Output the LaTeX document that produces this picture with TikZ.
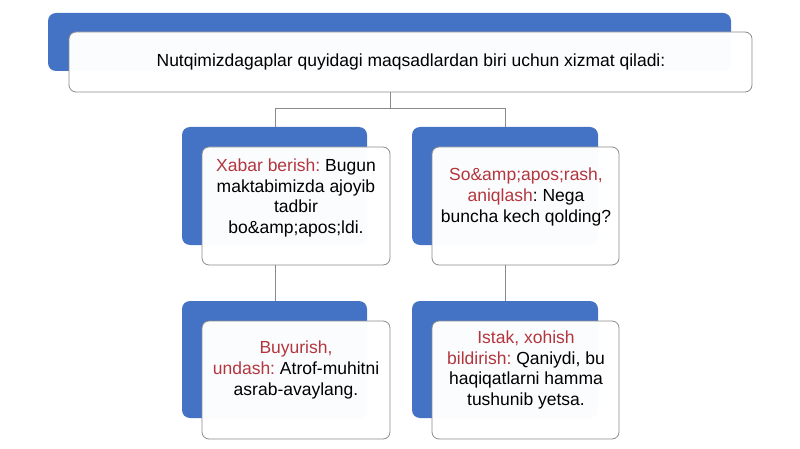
\documentclass[tikz,border=0pt]{standalone}
\usepackage{fontspec}
\setmainfont{Liberation Sans}
\definecolor{hdrblue}{HTML}{4472C4}
\definecolor{lblred}{HTML}{B3363E}
\definecolor{edgegray}{HTML}{8C8C8C}
\definecolor{linegray}{HTML}{8A8A8A}
\tikzset{
  bluebox/.style={fill=hdrblue, rounded corners=8pt, draw=none},
  whitebox/.style={fill=white, fill opacity=0.98, draw=edgegray, line width=0.8pt, rounded corners=7pt},
  txt/.style={align=center, font=\fontsize{17.5}{20.9}\selectfont, text=black},
  conn/.style={draw=linegray, line width=0.8pt}
}
\newcommand{\lbl}[1]{\textcolor{lblred}{#1}}
\frenchspacing
\begin{document}
\begin{tikzpicture}[x=1pt,y=-1pt]
\useasboundingbox (0,0) rectangle (800,449);
% top
\fill[bluebox] (48,13) rectangle (731,71);
\draw[whitebox] (69,32) rectangle (752,92);
\node[txt] (top) at (411,62) {\frenchspacing Nutqimizdagaplar quyidagi maqsadlardan biri uchun xizmat qiladi:};
\coordinate (topb) at (390,92);
\coordinate (branch) at (390,108);
% row 1
\fill[bluebox] (182,127) rectangle (367,245);
\draw[whitebox] (202,147) rectangle (390,265);
\node[txt] (a) at (296,198) {\frenchspacing\lbl{Xabar berish:} Bugun\\maktabimizda ajoyib\\tadbir\\bo\&amp;apos;ldi.};
\fill[bluebox] (412,127) rectangle (598,245);
\draw[whitebox] (432,147) rectangle (619,265);
\node[txt] (b) at (526,197) {\frenchspacing\lbl{So\&amp;apos;rash,}\\\lbl{aniqlash}: Nega\\buncha kech qolding?};
% row 2
\fill[bluebox] (182,301) rectangle (367,418);
\draw[whitebox] (202,321) rectangle (390,439);
\node[txt] (c) at (296,370) {\frenchspacing\lbl{Buyurish,}\\\lbl{undash:} Atrof-muhitni\\asrab-avaylang.};
\fill[bluebox] (412,301) rectangle (598,418);
\draw[whitebox] (432,321) rectangle (619,439);
\node[txt] (d) at (526,370) {\frenchspacing\lbl{Istak, xohish}\\\lbl{bildirish:} Qaniydi, bu\\haqiqatlarni hamma\\tushunib yetsa.};
% connectors
\coordinate (a1) at (275,127);
\coordinate (b1) at (505,127);
\coordinate (a2) at (275,265);
\coordinate (a3) at (275,301);
\coordinate (b2) at (505,265);
\coordinate (b3) at (505,301);
\draw[conn] (topb) -- (branch) -| (a1);
\draw[conn] (branch) -| (b1);
\draw[conn] (a2) -- (a3);
\draw[conn] (b2) -- (b3);
\end{tikzpicture}
\end{document}
